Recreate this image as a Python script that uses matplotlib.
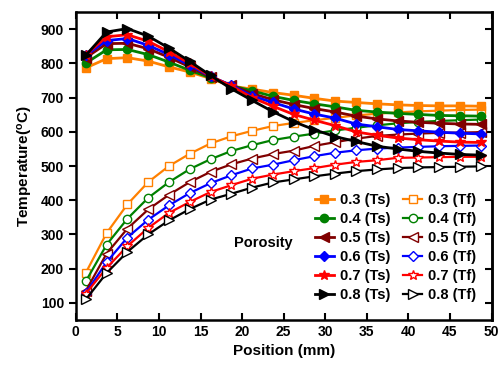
import matplotlib.pyplot as plt

plt.rcParams['font.family'] = 'Liberation Sans'
plt.rcParams['font.weight'] = 'bold'
plt.rcParams['mathtext.fontset'] = 'custom'
plt.rcParams['mathtext.rm'] = 'Liberation Sans:bold'
plt.rcParams['mathtext.default'] = 'rm'

pos = [1.2, 3.7, 6.2, 8.7, 11.2, 13.7, 16.2, 18.7, 21.2, 23.7,
       26.2, 28.7, 31.2, 33.7, 36.2, 38.7, 41.2, 43.7, 46.2, 48.7]

# solid temperature (Ts)
ts_03 = [787, 814, 817, 807, 790, 775, 756, 734, 725, 715,
         707, 698, 690, 686, 682, 679, 677, 676, 676, 675]
ts_04 = [801, 840, 841, 826, 804, 780, 758, 735, 720, 704,
         692, 682, 673, 663, 658, 654, 651, 648, 647, 646]
ts_05 = [817, 858, 859, 843, 818, 790, 760, 736, 712, 694,
         680, 668, 658, 646, 638, 632, 628, 625, 623, 622]
ts_06 = [824, 867, 873, 853, 826, 795, 762, 736, 705, 686,
         667, 652, 640, 623, 615, 607, 603, 599, 596, 594]
ts_07 = [826, 878, 884, 865, 834, 800, 763, 734, 700, 675,
         651, 634, 618, 600, 590, 582, 577, 573, 570, 569]
ts_08 = [824, 892, 902, 880, 845, 806, 765, 726, 692, 659,
         630, 606, 586, 572, 558, 550, 543, 538, 534, 532]

# fluid temperature (Tf)
tf_03 = [188, 304, 388, 453, 500, 536, 566, 587, 603, 617,
         626, 634, 641, 648, 653, 657, 660, 662, 664, 665]
tf_04 = [163, 270, 346, 407, 453, 491, 520, 544, 561, 576,
         586, 595, 604, 612, 619, 625, 629, 632, 634, 636]
tf_05 = [135, 244, 317, 373, 416, 453, 483, 505, 522, 535,
         545, 559, 570, 580, 588, 592, 595, 597, 598, 599]
tf_06 = [129, 219, 291, 343, 385, 421, 450, 473, 493, 504,
         517, 529, 539, 546, 551, 554, 556, 558, 559, 560]
tf_07 = [127, 202, 266, 319, 363, 395, 424, 444, 463, 475,
         485, 494, 504, 512, 517, 524, 525, 526, 527, 527]
tf_08 = [110, 187, 249, 300, 341, 374, 402, 419, 437, 452,
         461, 470, 478, 485, 490, 494, 496, 497, 498, 499]

porosity = ['0.3', '0.4', '0.5', '0.6', '0.7', '0.8']
colors = ['#FF8000', '#008000', '#800000', '#0000FF', '#FF0000', '#000000']
markers = ['s', 'o', '<', 'D', '*', '>']
msizes = [5.5, 6, 6.5, 5, 7.5, 7]
ts_all = [ts_03, ts_04, ts_05, ts_06, ts_07, ts_08]
tf_all = [tf_03, tf_04, tf_05, tf_06, tf_07, tf_08]

fig = plt.figure(figsize=(4.99, 3.69), dpi=100)
ax = fig.add_axes([0.152, 0.133, 0.833, 0.834])

tf_h = []
for i in range(6):
    h1, = ax.plot(pos, tf_all[i], color=colors[i], marker=markers[i], ms=msizes[i],
                  mfc='white', mec=colors[i], mew=1.0, lw=1.6,
                  label=porosity[i] + ' (Tf)')
    tf_h.append(h1)
ts_h = []
for i in range(6):
    h2, = ax.plot(pos, ts_all[i], color=colors[i], marker=markers[i], ms=msizes[i],
                  mfc=colors[i], mec=colors[i], lw=2.0,
                  label=porosity[i] + ' (Ts)')
    ts_h.append(h2)

ax.set_xlim(0, 50)
ax.set_ylim(50, 950)
ax.set_xticks(range(0, 51, 5))
ax.set_yticks(range(100, 901, 100))
ax.tick_params(axis='both', labelsize=10, width=1.5, length=5)
ax.tick_params(axis='x', direction='in', top=True)
ax.tick_params(axis='y', direction='out')
ax2 = ax.secondary_yaxis('right')
ax2.set_yticks(range(100, 901, 100))
ax2.tick_params(direction='in', length=5, width=1.5, labelright=False)
for s in ax.spines.values():
    s.set_linewidth(1.8)
ax2.spines['right'].set_linewidth(1.8)

ax.set_xlabel('Position (mm)', fontsize=11, fontweight='bold')
ax.set_ylabel(r'Temperature($^{\rm o}$C)', fontsize=11, fontweight='bold')

ax.legend(ts_h + tf_h, [h.get_label() for h in ts_h + tf_h], ncol=2,
          frameon=False, fontsize=10.5, handlelength=1.3, handletextpad=0.4,
          columnspacing=0.9, labelspacing=0.35, loc='lower right',
          bbox_to_anchor=(0.995, 0.015))
ax.text(22.6, 274, 'Porosity', fontsize=10.5, fontweight='bold', ha='center', va='center')

fig.savefig('out.png', dpi=100)
